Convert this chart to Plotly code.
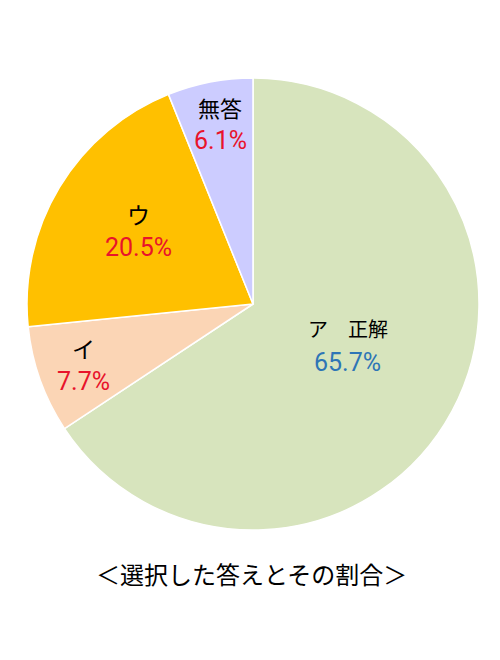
import math
import plotly.graph_objects as go

categories = ["ア　正解", "イ", "ウ", "無答"]
values = [65.7, 7.7, 20.5, 6.1]
slice_colors = ["#D7E4BD", "#FBD5B5", "#FFC000", "#CCCCFF"]
pct_colors = ["#2E75B6", "#E8132B", "#E8132B", "#E8132B"]
title_text = "＜選択した答えとその割合＞"

# label styling / placement (not data)
label_radius = [0.456, 0.798, 0.603, 0.812]
label_nudge = [(4, -7), (0, 0), (2, -3), (2, 0)]
cat_sizes = [20, 23, 23, 22]
pct_size = 25

OFF = 8  # page body margin
W, H = 500 - OFF, 660 - OFF
cx, cy, R = 253 - OFF, 304 - OFF, 226
FONT = "Noto Sans CJK JP"
NUMFONT = "Roboto"

fig = go.Figure(go.Pie(
    labels=categories,
    values=values,
    sort=False,
    direction="clockwise",
    rotation=0,
    marker=dict(colors=slice_colors, line=dict(color="white", width=1.5)),
    textinfo="none",
    hoverinfo="label+percent",
    domain=dict(x=[(cx - R) / W, (cx + R) / W], y=[1 - (cy + R) / H, 1 - (cy - R) / H]),
    showlegend=False,
))

total = sum(values)
cum = 0.0
annotations = []
for cat, v, pc, fr, (dx, dy), cs in zip(categories, values, pct_colors, label_radius,
                                        label_nudge, cat_sizes):
    mid = (cum + v / 2) / total * 2 * math.pi
    cum += v
    px = cx + R * fr * math.sin(mid) + dx
    py = cy - R * fr * math.cos(mid) + dy
    ax = px / W
    ay = 1 - py / H
    annotations.append(dict(x=ax, y=ay, xref="paper", yref="paper", text=cat,
                            showarrow=False, yshift=17, xanchor="center", yanchor="middle",
                            font=dict(family=FONT, size=cs, color="#000000")))
    annotations.append(dict(x=ax, y=ay, xref="paper", yref="paper",
                            text=f"{v:.1f}%", showarrow=False, yshift=-17,
                            xanchor="center", yanchor="middle",
                            font=dict(family=NUMFONT, size=pct_size, color=pc)))

annotations.append(dict(x=(251 - OFF) / W, y=1 - (573 - OFF) / H, xref="paper", yref="paper",
                        text=title_text, showarrow=False, xanchor="center", yanchor="middle",
                        font=dict(family=FONT, size=24, color="#000000")))

fig.update_layout(
    width=W, height=H,
    margin=dict(l=0, r=0, t=0, b=0),
    paper_bgcolor="white",
    plot_bgcolor="white",
    annotations=annotations,
)

fig.write_html("out.html")
